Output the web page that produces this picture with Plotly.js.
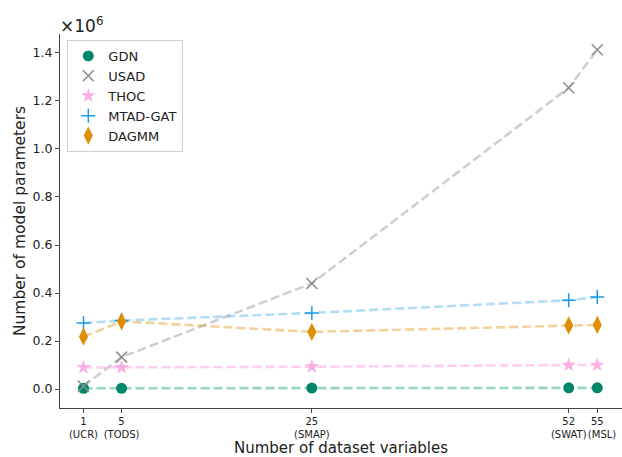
<!DOCTYPE html>
<html><head><meta charset="utf-8">
<script src="https://cdn.plot.ly/plotly-3.0.1.min.js"></script>
<style>body{margin:0;padding:0;background:#fff}#chart{width:622px;height:457px}</style>
</head><body><div id="chart"></div>
<script>
const xVars = [1, 5, 25, 52, 55];
const xTickText = ['1<br>(UCR)', '5<br>(TODS)', '25<br>(SMAP)', '52<br>(SWAT)', '55<br>\u00a0\u00a0\u00a0(MSL)'];
const gdn = [3000, 3000, 4000, 5000, 5000];
const usad = [12000, 133000, 440000, 1255000, 1413000];
const thoc = [90000, 90000, 93000, 100000, 100000];
const mtadgat = [275000, 285000, 317000, 370000, 383000];
const dagmm = [218000, 282000, 238000, 265000, 267000];
const yTickVals = [0, 200000, 400000, 600000, 800000, 1000000, 1200000, 1400000];
const yTickText = ['0.0', '0.2', '0.4', '0.6', '0.8', '1.0', '1.2', '1.4'];

const series = [
  {name: 'GDN', y: gdn, color: '#00876a', line: 'rgba(2,158,115,0.42)', symbol: 'circle', size: 11, mline: 0},
  {name: 'USAD', y: usad, color: '#8c8c8c', line: 'rgba(148,148,148,0.45)', symbol: 'x-thin-open', size: 11, mline: 1.5},
  {name: 'THOC', y: thoc, color: '#fbafe4', line: 'rgba(251,175,228,0.6)', symbol: 'star', size: 11, mline: 0},
  {name: 'MTAD-GAT', y: mtadgat, color: '#1e9be8', line: 'rgba(86,180,233,0.45)', symbol: 'cross-thin-open', size: 10, mline: 1.5},
  {name: 'DAGMM', y: dagmm, color: '#de8f05', line: 'rgba(222,143,5,0.4)', symbol: 'diamond-tall', size: 13, mline: 0}
];

const traces = [];
series.forEach(s => {
  traces.push({x: xVars, y: s.y, type: 'scatter', mode: 'lines', showlegend: false, hoverinfo: 'skip',
    line: {color: s.line, width: 2.6, dash: '9px,4px'}});
});
series.forEach(s => {
  traces.push({x: xVars, y: s.y, type: 'scatter', mode: 'markers', name: s.name,
    marker: {color: s.color, symbol: s.symbol, size: s.size, line: {color: s.color, width: s.mline}}});
});

const layout = {
  width: 622, height: 457,
  margin: {l: 59.5, r: 0, t: 34, b: 49, pad: 0},
  paper_bgcolor: '#fff', plot_bgcolor: '#fff',
  font: {family: 'DejaVu Sans, sans-serif', color: '#222'},
  title: {text: '×10<sup>6</sup>', x: 0, xref: 'paper', xanchor: 'left', y: 0.955, yref: 'container', font: {size: 17, color: '#222'}},
  xaxis: {
    range: [-1.47, 57.6], tickvals: xVars, ticktext: xTickText, tickangle: 0, automargin: false,
    showgrid: false, zeroline: false, showline: true, linecolor: '#444', linewidth: 1,
    ticks: 'outside', ticklen: 4, tickcolor: '#444', tickfont: {size: 10, color: '#222'}
  },
  yaxis: {
    range: [-79000, 1479000], tickvals: yTickVals, ticktext: yTickText, automargin: false,
    showgrid: false, zeroline: false, showline: true, linecolor: '#444', linewidth: 1,
    ticks: 'outside', ticklen: 4, tickcolor: '#444', tickfont: {size: 12.5, color: '#222'},
    title: {text: 'Number of model parameters', font: {size: 15.5, color: '#222'}, standoff: 3}
  },
  annotations: [{text: 'Number of dataset variables', xref: 'paper', yref: 'paper', x: 0.5, y: -0.108,
    xanchor: 'center', yanchor: 'middle', showarrow: false, font: {size: 15, color: '#222'}}],
  legend: {x: 0.013, y: 0.984, xanchor: 'left', yanchor: 'top', bgcolor: 'rgba(255,255,255,0.8)',
    bordercolor: '#d0d0d0', borderwidth: 1, font: {size: 13, color: '#222'}, itemwidth: 30}
};
Plotly.newPlot('chart', traces, layout, {displayModeBar: false, staticPlot: true});
</script></body></html>
